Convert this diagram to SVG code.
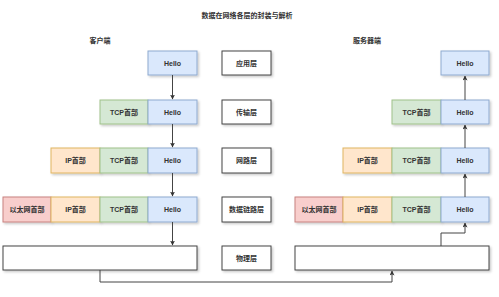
<svg xmlns="http://www.w3.org/2000/svg" width="499" height="297" viewBox="0 0 499 297">
<defs>
<filter id="sh" x="-10%" y="-20%" width="130%" height="160%">
<feDropShadow dx="1.5" dy="1.5" stdDeviation="0.8" flood-color="#000" flood-opacity="0.22"/>
</filter>
<marker id="ar" viewBox="0 0 10 10" refX="9" refY="5" markerWidth="5" markerHeight="5" orient="auto" markerUnits="userSpaceOnUse">
<path d="M0,0 L10,5 L0,10 L2.5,5 Z" fill="#333"/>
</marker>
<style>
text{font-family:"Liberation Sans","Noto Sans CJK SC",sans-serif;font-size:7px;font-weight:bold;fill:#333;text-anchor:middle;dominant-baseline:central}
.b{fill:#dae8fc;stroke:#8eaad0;stroke-width:1;filter:url(#sh)}
.g{fill:#d5e8d4;stroke:#9fc28a;stroke-width:1;filter:url(#sh)}
.o{fill:#ffe6cc;stroke:#e0b560;stroke-width:1;filter:url(#sh)}
.r{fill:#f8cecc;stroke:#c88280;stroke-width:1;filter:url(#sh)}
.w{fill:#fff;stroke:#444;stroke-width:1;filter:url(#sh)}
.c{fill:none;stroke:#444;stroke-width:1}
</style>
</defs>
<rect width="499" height="297" fill="#fff"/>
<text x="247" y="15">数据在网络各层的封装与解析</text>
<text x="100" y="40">客户端</text>
<text x="367" y="40">服务器端</text>

<g id="layers">
<g id="app"><rect class="w" x="222" y="51" width="49" height="24"/><text x="246.5" y="63">应用层</text></g>
<g id="transport"><rect class="w" x="222" y="100" width="49" height="24"/><text x="246.5" y="112">传输层</text></g>
<g id="network"><rect class="w" x="222" y="148" width="49" height="25"/><text x="246.5" y="160.5">网路层</text></g>
<g id="datalink"><rect class="w" x="222" y="197" width="49" height="25"/><text x="246.5" y="209.5">数据链路层</text></g>
<g id="physical"><rect class="w" x="222" y="246" width="49" height="24"/><text x="246.5" y="258">物理层</text></g>
</g>

<g id="client">
<g id="c1"><rect class="b" x="148" y="51" width="49" height="24"/><text x="172.5" y="63">Hello</text></g>
<g id="c2"><rect class="g" x="100" y="100" width="48" height="24"/><text x="124" y="112">TCP首部</text>
<rect class="b" x="148" y="100" width="49" height="24"/><text x="172.5" y="112">Hello</text></g>
<g id="c3"><rect class="o" x="51" y="148" width="49" height="25"/><text x="75.5" y="160.5">IP首部</text>
<rect class="g" x="100" y="148" width="48" height="25"/><text x="124" y="160.5">TCP首部</text>
<rect class="b" x="148" y="148" width="49" height="25"/><text x="172.5" y="160.5">Hello</text></g>
<g id="c4"><rect class="r" x="3" y="197" width="48" height="25"/><text x="27" y="209.5">以太网首部</text>
<rect class="o" x="51" y="197" width="49" height="25"/><text x="75.5" y="209.5">IP首部</text>
<rect class="g" x="100" y="197" width="48" height="25"/><text x="124" y="209.5">TCP首部</text>
<rect class="b" x="148" y="197" width="49" height="25"/><text x="172.5" y="209.5">Hello</text></g>
<g id="c5"><rect class="w" x="3" y="246" width="194" height="24"/></g>
</g>

<g id="server">
<g id="s1"><rect class="b" x="441" y="51" width="48" height="24"/><text x="465" y="63">Hello</text></g>
<g id="s2"><rect class="g" x="392" y="100" width="49" height="24"/><text x="416.5" y="112">TCP首部</text>
<rect class="b" x="441" y="100" width="48" height="24"/><text x="465" y="112">Hello</text></g>
<g id="s3"><rect class="o" x="343" y="148" width="49" height="25"/><text x="367.5" y="160.5">IP首部</text>
<rect class="g" x="392" y="148" width="49" height="25"/><text x="416.5" y="160.5">TCP首部</text>
<rect class="b" x="441" y="148" width="48" height="25"/><text x="465" y="160.5">Hello</text></g>
<g id="s4"><rect class="r" x="295" y="197" width="48" height="25"/><text x="319" y="209.5">以太网首部</text>
<rect class="o" x="343" y="197" width="49" height="25"/><text x="367.5" y="209.5">IP首部</text>
<rect class="g" x="392" y="197" width="49" height="25"/><text x="416.5" y="209.5">TCP首部</text>
<rect class="b" x="441" y="197" width="48" height="25"/><text x="465" y="209.5">Hello</text></g>
<g id="s5"><rect class="w" x="295" y="246" width="194" height="24"/></g>
</g>

<g id="connectors">
<path class="c" d="M172.5,75 V99" marker-end="url(#ar)"/>
<path class="c" d="M172.5,124 V147" marker-end="url(#ar)"/>
<path class="c" d="M172.5,173 V196" marker-end="url(#ar)"/>
<path class="c" d="M172.5,222 V245" marker-end="url(#ar)"/>
<path class="c" d="M100,270 V282 H392 V271" marker-end="url(#ar)"/>
<path class="c" d="M441,246 V233 H465 V223" marker-end="url(#ar)"/>
<path class="c" d="M465,197 V174" marker-end="url(#ar)"/>
<path class="c" d="M465,148 V125" marker-end="url(#ar)"/>
<path class="c" d="M465,100 V76" marker-end="url(#ar)"/>
</g>
</svg>
